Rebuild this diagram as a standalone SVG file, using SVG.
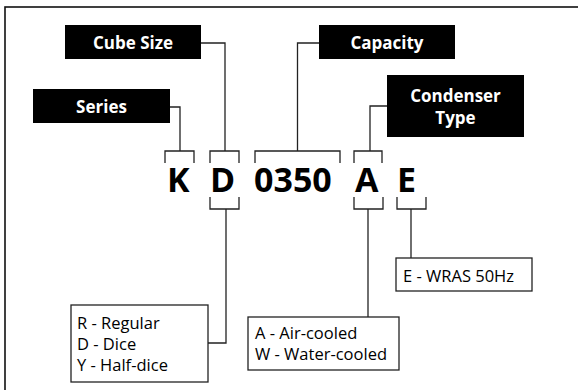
<svg xmlns="http://www.w3.org/2000/svg" width="578" height="390" viewBox="0 0 578 390">
<style>
.lbl{fill:#000}
.lt{font-family:"Open Sans","Liberation Sans",sans-serif;font-weight:bold;font-size:17px;fill:#fff;text-anchor:middle}
.code{font-family:"Open Sans","Liberation Sans",sans-serif;font-weight:bold;font-size:34px;fill:#000}
.box{fill:#fff;stroke:#222;stroke-width:1.3}
.bt{font-family:"Open Sans","Liberation Sans",sans-serif;font-size:16.5px;fill:#000}
.ln{fill:none;stroke:#222;stroke-width:1.3}
</style>
<rect x="5" y="7" width="600" height="420" fill="#fff" stroke="#111" stroke-width="1.6"/>
<g id="node-cube-size"><rect class="lbl" x="65" y="25" width="136" height="34"/><text class="lt" x="133" y="48.5">Cube Size</text></g>
<g id="node-series"><rect class="lbl" x="33" y="89" width="137" height="34"/><text class="lt" x="101.5" y="112.5">Series</text></g>
<g id="node-capacity"><rect class="lbl" x="319" y="25" width="136" height="34"/><text class="lt" x="387" y="48.5">Capacity</text></g>
<g id="node-condenser"><rect class="lbl" x="387" y="75" width="137" height="62"/><text class="lt" x="455.5" y="102">Condenser</text><text class="lt" x="455.5" y="124">Type</text></g>
<g id="node-code">
<text class="code" x="167" y="192">K</text>
<text class="code" x="210" y="192">D</text>
<text class="code" x="254" y="192">0350</text>
<text class="code" x="355" y="192">A</text>
<text class="code" x="397" y="192">E</text>
</g>
<g id="node-size-options"><rect class="box" x="71" y="305" width="137" height="77"/><text class="bt" x="77" y="329">R - Regular</text><text class="bt" x="77" y="350">D - Dice</text><text class="bt" x="77" y="371">Y - Half-dice</text></g>
<g id="node-condenser-options"><rect class="box" x="248" y="317" width="151" height="53"/><text class="bt" x="255" y="339">A - Air-cooled</text><text class="bt" x="255" y="360">W - Water-cooled</text></g>
<g id="node-voltage"><rect class="box" x="396" y="258" width="136" height="33"/><text class="bt" x="403" y="282">E - WRAS 50Hz</text></g>
<g id="connectors">
<path class="ln" d="M165 163V151H194V163"/>
<path class="ln" d="M210 163V151H239V163"/>
<path class="ln" d="M255 163V151H340V163"/>
<path class="ln" d="M354 163V151H382V163"/>
<path class="ln" d="M170 107H180V151"/>
<path class="ln" d="M201 43H225V151"/>
<path class="ln" d="M319 43H297.5V151"/>
<path class="ln" d="M387 106H370V151"/>
<path class="ln" d="M210 197V209H239V197"/>
<path class="ln" d="M354 197V209H383V197"/>
<path class="ln" d="M397 197V209H426V197"/>
<path class="ln" d="M226 209V343H208"/>
<path class="ln" d="M368 209V317"/>
<path class="ln" d="M411 209V258"/>
</g>
</svg>
